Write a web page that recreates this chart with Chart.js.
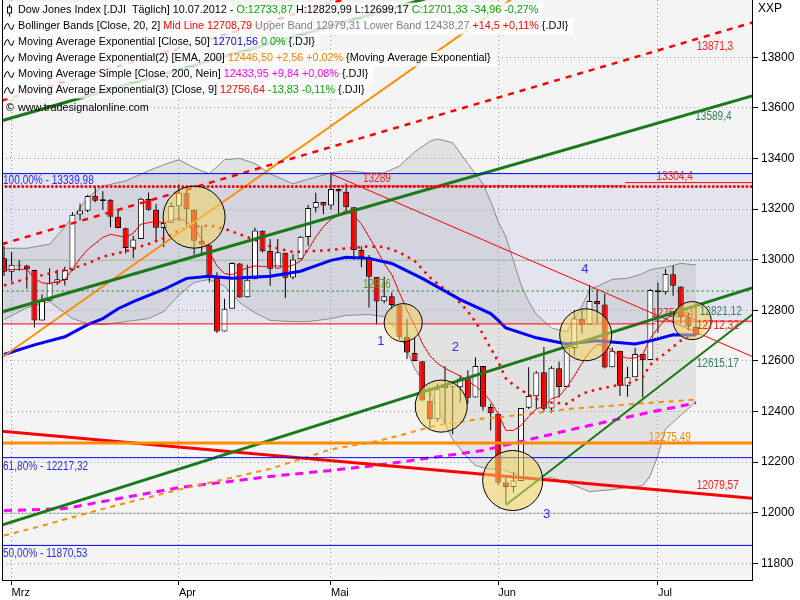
<!DOCTYPE html>
<html><head><meta charset="utf-8">
<script src="https://cdn.jsdelivr.net/npm/chart.js"></script>
<style>html,body{margin:0;padding:0;background:#fff;overflow:hidden}canvas{display:block}</style>
</head><body>
<canvas id="c" width="800" height="600" style="width:800px;height:600px"></canvas>
<script>
// ---------- DATA ----------
const dates = ['29.02','01.03','02.03','05.03','06.03','07.03','08.03','09.03','12.03','13.03','14.03','15.03','16.03','19.03','20.03','21.03','22.03','23.03','26.03','27.03','28.03','29.03','30.03',
'02.04','03.04','04.04','05.04','09.04','10.04','11.04','12.04','13.04','16.04','17.04','18.04','19.04','20.04','23.04','24.04','25.04','26.04','27.04','30.04',
'01.05','02.05','03.05','04.05','07.05','08.05','09.05','10.05','11.05','14.05','15.05','16.05','17.05','18.05','21.05','22.05','23.05','24.05','25.05','29.05','30.05','31.05',
'01.06','04.06','05.06','06.06','07.06','08.06','11.06','12.06','13.06','14.06','15.06','18.06','19.06','20.06','21.06','22.06','25.06','26.06','27.06','28.06','29.06',
'02.07','03.07','05.07','06.07','09.07','10.07'];
const open  = [13005,12952,12980,12977,12959,12759,12838,12907,12920,12960,13178,13193,13253,13232,13237,13170,13124,13047,13082,13240,13197,13125,13146,
13211,13262,13197,13074,13057,12928,12716,12806,12985,12851,12922,13114,13034,12965,13027,12929,13002,13089,13205,13228,
13214,13279,13268,13207,13038,13009,12932,12836,12855,12820,12695,12631,12598,12442,12369,12492,12500,12496,12531,12455,12580,12418,
12391,12119,12101,12125,12415,12460,12555,12412,12571,12497,12651,12766,12743,12837,12823,12575,12640,12502,12535,12627,12603,
12879,12871,12942,12894,12772,12733.87];
const high  = [13055,13030,12998,12980,12960,12862,12966,12960,12972,13188,13222,13256,13289,13270,13240,13196,13126,13094,13245,13265,13220,13150,13227,
13297,13272,13199,13135,13057,12950,12845,12990,12987,12980,13126,13115,13082,13082,13027,13021,13093,13216,13264,13228,
13338.66,13280,13301,13207,13053,13018,12931,12932,12870,12820,12765,12692,12598,12494,12510,12580,12500,12543,12563,12614,12580,12430,
12391,12141,12160,12414,12575,12560,12655,12580,12596,12672,12800,12800,12900,12880,12865,12653,12640,12577,12651,12627,12884,
12910,12963,12977,12894,12790,12829.99];
const low   = [12935,12915,12956,12885,12732,12759,12838,12900,12898,12955,13156,13188,13227,13196,13128,13124,13024,13005,13082,13193,13070,13050,13146,
13153,13134,13020,13016,12910,12710,12716,12806,12850,12851,12922,13028,12897,12965,12848,12922,13002,13055,13186,13179,
13198,13182,13190,13000,12970,12811,12745,12828,12803,12683,12607,12598,12442,12336,12360,12350,12310,12436,12430,12455,12404,12325,
12107,12035,12079,12125,12410,12412,12400,12395,12455,12497,12620,12708,12743,12746,12570,12575,12461,12458,12535,12455,12603,
12711,12862,12857,12747,12720,12699.17];
const close = [12952,12980,12977,12962,12759,12837,12907,12922,12959,13177,13194,13252,13233,13239,13170,13125,13046,13080,13241,13197,13126,13145,13212,
13264,13199,13075,13060,12929,12716,12806,12987,12850,12921,13115,13033,12964,13029,12928,13001,13090,13204,13228,13214,
13279,13269,13207,13038,13009,12932,12835,12855,12821,12695,12633,12599,12443,12369,12490,12502,12496,12530,12454,12580,12419,12393,
12118,12101,12127,12414,12461,12554,12411,12573,12497,12652,12767,12742,12837,12824,12574,12640,12502,12535,12627,12602,12880,
12871,12943,12897,12772,12736,12701.33];

const monthTicks  = [1,23,43,65,86];
const monthLabels = ['Mrz','Apr','Mai','Jun','Jul'];
const yTicks = [11800,12000,12200,12400,12600,12800,13000,13200,13400,13600,13800];
const majorLevels = [13000,12000];

// Bollinger Bands [Close,20,2]
const bbIdx   = [0,3,6,9,11,13,16,19,21,23,25,27,29,31,33,35,38,40,43,45,48,50,52,54,56,57,59,61,62,63,64,65,66,67,68,69,70,72,74,76,77,80,82,84,85,86,87,89,91];
const bbUpper = [13045,13045,13061,13165,13245,13291,13311,13351,13375,13395,13363,13339,13395,13400,13380,13339,13300,13318,13343,13351,13343,13343,13370,13425,13468,13477,13462,13380,13340,13299,13230,13150,13090,12995,12900,12834,12785,12730,12715,12815,12880,12922,12926,12945,12960,12966,12969,12985,12979];
const bbLower = [12763,12810,12834,12767,12747,12743,12755,12767,12795,12860,12910,12922,12895,12830,12790,12760,12755,12755,12767,12780,12783,12775,12710,12570,12480,12410,12290,12215,12187,12178,12171,12175,12165,12155,12147,12140,12131,12139,12119,12095,12083,12091,12100,12107,12147,12226,12330,12385,12438];
const bbMid   = [12898,12925,12945,12965,12985,13012,13033,13062,13085,13115,13130,13135,13122,13100,13078,13052,13030,13033,13038,13045,13052,13050,13029,12995,12930,12905,12862,12795,12755,12705,12650,12596,12530,12505,12485,12465,12450,12435,12430,12469,12480,12500,12509,12536,12584,12610,12630,12680,12709];

// EMA 9
const ema9Idx = [0,3,4,5,6,8,10,11,13,14,16,17,18,20,21,22,23,24,25,26,27,28,29,30,31,32,33,34,35,36,37,38,39,40,41,42,43,44,45,46,47,48,49,50,51,52,53,54,55,56,57,58,59,60,61,62,63,64,65,66,67,68,69,70,71,72,73,74,75,76,77,78,79,80,81,82,83,84,85,86,87,88,89,90,91];
const ema9Val = [12960,12962,12926,12908,12906,12920,13005,13040,13088,13100,13088,13105,13140,13152,13145,13155,13164,13150,13125,13080,13030,12975,12945,12940,12955,12968,12975,12973,12973,12976,12970,12978,12995,13040,13090,13130,13160,13175,13195,13175,13140,13090,13040,12985,12940,12870,12800,12740,12670,12620,12590,12570,12555,12540,12520,12500,12475,12440,12390,12325,12325,12345,12380,12410,12420,12450,12460,12495,12540,12590,12635,12665,12660,12640,12620,12610,12612,12625,12690,12730,12765,12785,12790,12775,12760];
// EMA 50
const ema50Idx = [0,4,8,11,13,15,17,21,24,27,30,35,39,43,45,48,51,55,60,64,65,66,70,74,78,83,85,88,91];
const ema50Val = [12625,12663,12695,12743,12767,12806,12834,12882,12926,12934,12926,12934,12954,12997,13009,13005,12985,12926,12842,12787,12760,12730,12691,12667,12679,12667,12679,12703,12702];
// EMA 200
const ema200Idx = [0,4,13,23,35,43,49,52,57,63,66,74,83,91];
const ema200Val = [11910,11940,12015,12091,12173,12250,12282,12305,12346,12372,12380,12409,12430,12447];
// SMA 200
const sma200Idx = [0,8,13,23,35,43,49,63,76,85,91];
const sma200Val = [12008,12016,12044,12099,12143,12167,12187,12246,12338,12397,12434];

// Drawn levels and trend lines  [index, price]
const fibLevels = [13339.98, 12217.32, 11870.53];
const zoneBottom = 12746;
const resistDotted = 13289;
const greenDotted = 12876;
const orangeLevel = 12275.49;
const redLevelA = [[-0.3,12746],[85.6,12746]];
const redLevelB = [[85.6,12756.84],[98.4,12756.84]];
const redTop1 = [[43,13291],[81.7,13291]];
const redTop2 = [[81.7,13304.4],[98.4,13304.4]];
const chanRedDash1 = [[-0.3,13061],[98.4,13937]];
const chanRedDash2 = [[-0.3,13629],[98.4,14505]];
const chanGreenA = [[-0.3,13549],[98.4,14403]];
const chanGreenB = [[-0.3,12793],[98.4,13647]];
const chanGreenC = [[-0.3,11951],[98.4,12888]];
const steepGreen = [[66,12030],[98.4,12783]];
const steepOrange = [[-0.3,12613],[98.4,14699]];
const redSupport = [[-0.3,12322],[98.4,12057]];
const redDiagonal = [[43,13338.66],[98.4,12617]];

// circles: centre index, centre price, radius in days
const circIdx = [25, 52.5, 57.5, 66.9, 76.5, 90.5];
const circVal = [13168, 12751, 12421, 12127, 12703, 12759];
const circRad = [4.08, 2.5, 3.42, 3.95, 3.42, 2.5];

const labelText = ['100,00% - 13339,98','61,80% - 12217,32','50,00% - 11870,53','13289','13304,4','13871,3','13589,4','12876','12821,12','12712,32','12615,17','12275,49','12079,57'];
const labelIdx  = [-0.13,-0.13,-0.13,47.2,85.8,91.1,90.9,47.2,91.5,91.1,91.1,84.8,91.1];
const labelVal  = [13311,12183,11837,13320,13327,13843,13565,12900,12795,12739,12590,12298,12105];
const labelCol  = ['#2b2bff','#2b2bff','#2b2bff','#ff2020','#ff2020','#ff2020','#2f7f4f','#5f9a20','#2f7f5f','#ff2020','#2f7f5f','#ff8c00','#ff2020'];
const waveText = ['1','2','3','4'];
const waveIdx  = [49.1,58.9,70.9,75.9];
const waveVal  = [12677,12654,11992,12963];
const hiddenLabel = ['12756,84', 85.2, 12787];

const legendRows = [
 [['Dow Jones Index [.DJI  Täglich] 10.07.2012 - ','#000'],['O:12733,87','#00aa00'],[' H:12829,99 L:12699,17 ','#000'],['C:12701,33 -34,96 -0,27%','#00aa00']],
 [['Bollinger Bands [Close, 20, 2] ','#000'],['Mid Line 12708,79','#ff0000'],[' Upper Band 12979,31 Lower Band 12438,27','#808080'],[' +14,5 +0,11%','#ff0000'],[' {.DJI}','#000']],
 [['Moving Average Exponential [Close, 50] ','#000'],['12701,56','#0000ff'],[' 0 0%','#00aa00'],[' {.DJI}','#000']],
 [['Moving Average Exponential(2) [EMA, 200] ','#000'],['12446,50 +2,56 +0,02%','#ff8000'],[' {Moving Average Exponential}','#000']],
 [['Moving Average Simple [Close, 200, Nein] ','#000'],['12433,95 +9,84 +0,08%','#ff00ff'],[' {.DJI}','#000']],
 [['Moving Average Exponential(3) [Close, 9] ','#000'],['12756,64','#ff0000'],[' -13,83 -0,11%','#00aa00'],[' {.DJI}','#000']],
 [['www.tradesignalonline.com','#000']]
];

// ---------- CHART ----------
const SANS = "'Liberation Sans', Arial, sans-serif";
const pts = (xs, ys) => xs.map((x, k) => ({x, y: ys[k]}));
const pairs = p => p.map(([x, y]) => ({x, y}));
const LX0 = -0.3, LX1 = 98.4;
function line(data, color, width, dash, order, extra) {
  return Object.assign({type:'line', data, borderColor:color, borderWidth:width, borderDash:dash||[],
    pointRadius:0, pointHoverRadius:0, fill:false, tension:0, order:order, borderCapStyle:'butt'}, extra||{});
}
const hl = v => [{x:LX0, y:v},{x:LX1, y:v}];

const datasets = [
  line(pts(bbIdx, bbUpper), '#8a8a8a', 1, [], 9, {fill:'+1', backgroundColor:'rgba(110,110,110,0.13)'}),
  line(pts(bbIdx, bbLower), '#8a8a8a', 1, [], 9),
  {type:'bar', order:6, grouped:false, barThickness:1, inflateAmount:0,
   data: dates.map((d,i)=>({x:i, y:[low[i], high[i]]})), backgroundColor:'#000', borderWidth:0},
  {type:'bar', order:5, grouped:false, barThickness:6, inflateAmount:0, borderSkipped:false,
   data: dates.map((d,i)=>({x:i, y:[open[i], close[i]]})),
   backgroundColor: dates.map((d,i)=> close[i] >= open[i] ? '#ffffff' : '#ff0000'),
   borderColor:'#000', borderWidth:1},
  line(pts(bbIdx, bbMid), '#ff0000', 2.5, [2.5,5], 3),
  line(pts(ema9Idx, ema9Val), '#ff0000', 1, [], 3),
  line(pts(ema200Idx, ema200Val), '#ff8c00', 2, [5,5], 3),
  line(pts(sma200Idx, sma200Val), '#ff00ff', 3, [8,6], 3),
  line(pts(ema50Idx, ema50Val), '#0000ff', 3, [], 2),
  line(hl(fibLevels[0]), '#0000ff', 1, [], 1),
  line(hl(fibLevels[1]), '#0000ff', 1, [], 1),
  line(hl(fibLevels[2]), '#0000ff', 1, [], 1),
  line(hl(resistDotted), '#ff0000', 3, [0.01,4.2], 1, {borderCapStyle:'round'}),
  line(hl(greenDotted), '#008000', 1, [2,3], 1),
  line(hl(orangeLevel), '#ff8c00', 3, [], 1),
  line(pairs(redLevelA), '#ff0000', 1, [], 1),
  line(pairs(redLevelB), '#ff0000', 1, [], 1),
  line(pairs(redTop1), '#ff0000', 1, [], 1),
  line(pairs(redTop2), '#ff0000', 1, [], 1),
  line(pairs(chanRedDash1), '#ff0000', 2.5, [6,6], 1),
  line(pairs(chanRedDash2), '#ff0000', 2.5, [6,6], 1),
  line(pairs(chanGreenA), '#1a7a1a', 3, [], 1),
  line(pairs(chanGreenB), '#1a7a1a', 3, [], 1),
  line(pairs(chanGreenC), '#1a7a1a', 3, [], 1),
  line(pairs(steepGreen), '#1a7a1a', 2, [], 1),
  line(pairs(steepOrange), '#ff8c00', 2, [], 1),
  line(pairs(redSupport), '#ff0000', 3, [], 1),
  line(pairs(redDiagonal), '#ff0000', 1, [], 1)
];

function narrowText(ctx, t, px, py) {
  ctx.save(); ctx.translate(px, py); ctx.scale(0.84, 1); ctx.fillText(t, 0, 0); ctx.restore();
}

const overlay = {
  id:'overlay',
  beforeDraw(c){
    const {ctx, chartArea:a, scales:{y}} = c;
    ctx.save();
    ctx.fillStyle='#fff'; ctx.fillRect(0,0,c.width,c.height);
    ctx.fillStyle='#f4f4f4'; ctx.fillRect(a.left,a.top,a.width,a.height);
    const t = y.getPixelForValue(fibLevels[0]), b = y.getPixelForValue(zoneBottom);
    ctx.fillStyle='#e4e4f0'; ctx.fillRect(a.left,t,a.width,b-t);
    ctx.restore();
  },
  beforeDatasetsDraw(c){
    const {ctx, chartArea:a, scales:{x,y}} = c;
    ctx.save();
    ctx.strokeStyle='#a9c4a9'; ctx.lineWidth=1;
    majorLevels.forEach(v=>{const p=Math.round(y.getPixelForValue(v))+0.5;
      ctx.beginPath(); ctx.moveTo(a.left,p); ctx.lineTo(a.right,p); ctx.stroke();});
    ctx.font = "12px " + SANS; ctx.textBaseline='middle'; ctx.fillStyle='#ff2020';
    narrowText(ctx, hiddenLabel[0], x.getPixelForValue(hiddenLabel[1]), y.getPixelForValue(hiddenLabel[2]));
    ctx.restore();
  },
  afterDatasetsDraw(c){
    const {ctx, chartArea:a, scales:{x,y}} = c;
    ctx.save();
    ctx.beginPath(); ctx.rect(a.left,a.top,a.width,a.height); ctx.clip();
    circIdx.forEach((ci,k)=>{
      const cx = x.getPixelForValue(ci), cy = y.getPixelForValue(circVal[k]);
      const r = x.getPixelForValue(ci+circRad[k]) - cx;
      ctx.beginPath(); ctx.arc(cx,cy,r,0,Math.PI*2);
      ctx.fillStyle='rgba(240,212,95,0.55)'; ctx.fill();
      ctx.lineWidth=1; ctx.strokeStyle='#000'; ctx.stroke();
    });
    ctx.textBaseline='middle'; ctx.textAlign='left';
    ctx.font = "12px " + SANS;
    labelText.forEach((t,k)=>{ ctx.fillStyle=labelCol[k];
      narrowText(ctx, t, x.getPixelForValue(labelIdx[k]), y.getPixelForValue(labelVal[k])); });
    ctx.font = "13px " + SANS; ctx.fillStyle='#3030ff';
    waveText.forEach((t,k)=> ctx.fillText(t, x.getPixelForValue(waveIdx[k]), y.getPixelForValue(waveVal[k])));
    ctx.restore();
  },
  afterDraw(c){
    const {ctx, chartArea:a} = c;
    ctx.save();
    ctx.strokeStyle='#000'; ctx.lineWidth=1;
    ctx.beginPath(); ctx.moveTo(a.left+0.5,a.top); ctx.lineTo(a.left+0.5,a.bottom); ctx.stroke();
    ctx.font = "10.8px " + SANS; ctx.textBaseline='middle';
    legendRows.forEach((row,r)=>{
      const cy = 10.5 + r*16 + (r===6 ? 2 : 0);
      const w = row.reduce((s,[t])=>s+ctx.measureText(t).width,0);
      if (r < 6) { ctx.fillStyle='rgba(255,255,255,0.82)'; ctx.fillRect(a.left+1, cy-8, 17+w+3, 16); }
      let xx = 18;
      row.forEach(([t,col])=>{ ctx.fillStyle=col; ctx.fillText(t,xx,cy); xx += ctx.measureText(t).width; });
      ctx.strokeStyle='#000'; ctx.lineWidth=1;
      if (r===0) {
        ctx.beginPath(); ctx.moveTo(9.5,cy-6); ctx.lineTo(9.5,cy+6); ctx.stroke();
        ctx.fillStyle='#fff'; ctx.fillRect(7,cy-3,5,6); ctx.strokeRect(7.5,cy-3.5,4,6);
      } else if (r < 6) {
        ctx.beginPath(); ctx.moveTo(4,cy+3); ctx.lineTo(6,cy-2); ctx.lineTo(8,cy-3); ctx.lineTo(10,cy+2);
        ctx.lineTo(12,cy+3); ctx.lineTo(14,cy-2); ctx.stroke();
      } else {
        ctx.font = "10px 'DejaVu Sans', sans-serif"; ctx.fillStyle='#000'; ctx.fillText('\u00A9',5,cy);
        ctx.font = "10.8px " + SANS;
      }
    });
    ctx.font = "12px " + SANS; ctx.fillStyle='#000'; ctx.textBaseline='middle';
    ctx.fillText('XXP', 758, 9);
    ctx.restore();
  }
};

new Chart(document.getElementById('c'), {
  type:'line',
  data:{datasets},
  options:{
    responsive:false, animation:false, devicePixelRatio:1, events:[],
    layout:{padding:{left:2, top:0, right:0, bottom:0}},
    plugins:{legend:{display:false}, tooltip:{enabled:false}, filler:{drawTime:'beforeDatasetsDraw'}},
    scales:{
      x:{type:'linear', position:'bottom', min:-0.263, max:98.37, offset:false,
         afterBuildTicks(s){ s.ticks = monthTicks.map(v=>({value:v})); },
         afterFit(s){ s.height = 20; s.paddingLeft = 0; s.paddingRight = 0; },
         ticks:{autoSkip:false, maxRotation:0, align:'start', padding:1, color:'#000',
                font:{family:SANS, size:11},
                callback:(v)=>{ const k = monthTicks.indexOf(v); return k>=0 ? monthLabels[k] : ''; }},
         grid:{offset:false, color:'#a0a0a0', drawTicks:true, tickLength:5, tickColor:'#000', tickWidth:1},
         border:{display:true, color:'#000', width:1, dash:[1,3]}},
      y:{type:'linear', position:'right', min:11733.8, max:14026.2,
         afterBuildTicks(s){ s.ticks = yTicks.map(v=>({value:v})); },
         afterFit(s){ s.width = 48; s.paddingTop = 0; s.paddingBottom = 0; },
         ticks:{padding:3, color:'#000', font:{family:SANS, size:12},
                callback:(v)=>String(v)},
         grid:{color:'#a8a8a8', drawTicks:true, tickLength:6, tickColor:'#000', tickWidth:1},
         border:{display:true, color:'#000', width:1, dash:[1,3]}}
    }
  },
  plugins:[overlay]
});
</script>
</body></html>
